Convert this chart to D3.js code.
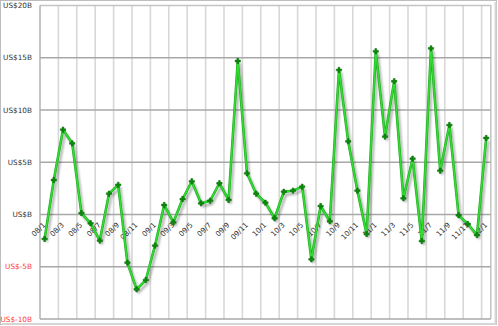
<!DOCTYPE html>
<html lang="en">
<head>
<meta charset="UTF-8">
<title>Monthly line chart</title>
<script src="https://cdn.jsdelivr.net/npm/d3@7"></script>
<style>
	body { margin: 0; background: #fff; }
	svg text { font-family: "DejaVu Sans", Verdana, sans-serif; }
</style>
</head>
<body>
<svg width="498" height="326"></svg>
<script>
	// months, 2008/01 .. 2012/01
	var months = ["08/1","08/2","08/3","08/4","08/5","08/6","08/7","08/8","08/9","08/10","08/11","08/12",
		"09/1","09/2","09/3","09/4","09/5","09/6","09/7","09/8","09/9","09/10","09/11","09/12",
		"10/1","10/2","10/3","10/4","10/5","10/6","10/7","10/8","10/9","10/10","10/11","10/12",
		"11/1","11/2","11/3","11/4","11/5","11/6","11/7","11/8","11/9","11/10","11/11","11/12",
		"12/1"];
	// values in US$ billions
	var values = [-2.34, 3.30, 8.12, 6.81, 0.14, -0.84, -2.50, 1.99, 2.84, -4.61, -7.16, -6.27,
		-2.98, 0.91, -0.75, 1.48, 3.18, 1.07, 1.32, 2.99, 1.39, 14.69, 3.94, 1.99,
		1.13, -0.36, 2.18, 2.28, 2.66, -4.29, 0.81, -0.65, 13.83, 7.00, 2.28, -1.87,
		15.62, 7.45, 12.75, 1.55, 5.34, -2.54, 15.90, 4.19, 8.56, -0.08, -0.91, -1.96,
		7.32];
	var yTicks = [-10, -5, 0, 5, 10, 15, 20];
	// every second month gets a label
	var tickMonths = ["08/1","08/3","08/5","08/7","08/9","08/11","09/1","09/3","09/5","09/7","09/9","09/11",
		"10/1","10/3","10/5","10/7","10/9","10/11","11/1","11/3","11/5","11/7","11/9","11/11","12/1"];

	var svg = d3.select("svg");
	var pLeft = 40, pRight = 490.8, pTop = 5.5, pBottom = 319;

	// outer frame
	svg.append("rect")
		.attr("x", 0.5).attr("y", 0.5)
		.attr("width", 496).attr("height", 324)
		.attr("fill", "#fff")
		.attr("stroke", "#bdbdbd")
		.attr("stroke-width", 1);
	svg.append("path")
		.attr("d", "M2,324 H495.5 V2")
		.attr("fill", "none")
		.attr("stroke", "#d6d6d6")
		.attr("stroke-width", 2);

	var x = d3.scaleBand().domain(months).range([pLeft, pRight]);
	var y = d3.scaleLinear().domain([-10, 20]).range([pBottom, pTop]);

	var defs = svg.append("defs");
	var f = defs.append("filter").attr("id", "shadow")
		.attr("x", "-5%").attr("y", "-5%").attr("width", "110%").attr("height", "110%");
	f.append("feDropShadow")
		.attr("dx", 2).attr("dy", 3)
		.attr("stdDeviation", 1.2)
		.attr("flood-color", "#000")
		.attr("flood-opacity", 0.3);

	// vertical grid, one line every two months
	var vgrid = months.filter((m, i) => i % 2 == 0 && i > 0);
	svg.append("g").selectAll("line")
		.data(vgrid)
		.enter().append("line")
		.attr("x1", d => x(d)).attr("x2", d => x(d))
		.attr("y1", pTop).attr("y2", pBottom)
		.attr("stroke", "#d8d8d8")
		.attr("stroke-width", 1.6);

	// plot border top/right
	svg.append("path")
		.attr("d", `M${pLeft},${pTop} H${pRight} V${pBottom}`)
		.attr("fill", "none")
		.attr("stroke", "#c4c4c4")
		.attr("stroke-width", 1.5);

	// horizontal grid
	svg.append("g").selectAll("line")
		.data(yTicks.filter(d => d < 20))
		.enter().append("line")
		.attr("x1", pLeft).attr("x2", pRight)
		.attr("y1", d => y(d)).attr("y2", d => y(d))
		.attr("stroke", "#a8a8a8")
		.attr("stroke-width", 1.3);

	// y axis line
	svg.append("line")
		.attr("x1", pLeft).attr("x2", pLeft)
		.attr("y1", pTop).attr("y2", pBottom)
		.attr("stroke", "#a8a8a8")
		.attr("stroke-width", 1.3);

	// y labels
	svg.append("g").selectAll("text")
		.data(yTicks)
		.enter().append("text")
		.attr("x", 32)
		.attr("y", d => y(d))
		.attr("dy", "0.35em")
		.attr("text-anchor", "end")
		.attr("font-size", 7.3)
		.attr("fill", d => d < 0 ? "#ff3b3b" : "#333")
		.text(d => "US$" + (d == 0 ? "" : d) + "B");

	// x labels, rotated
	svg.append("g").selectAll("text")
		.data(tickMonths)
		.enter().append("text")
		.attr("transform", d => `translate(${x(d) + x.bandwidth() / 2 + 1.5},${y(0) + 11}) rotate(-45)`)
		.attr("text-anchor", "end")
		.attr("font-size", 7.3)
		.attr("fill", "#333")
		.text(d => d);

	// data line
	var pts = months.map((m, i) => ({ m: m, v: values[i] }));
	var line = d3.line()
		.x(d => x(d.m) + x.bandwidth() / 2)
		.y(d => y(d.v));

	var g = svg.append("g").attr("filter", "url(#shadow)");
	g.append("path")
		.attr("d", line(pts))
		.attr("fill", "none")
		.attr("stroke", "#20a820")
		.attr("stroke-width", 2.6)
		.attr("stroke-linejoin", "round");
	g.append("path")
		.attr("d", line(pts))
		.attr("fill", "none")
		.attr("stroke", "#33dd33")
		.attr("stroke-width", 1.5)
		.attr("stroke-linejoin", "round");

	svg.append("g").selectAll("path")
		.data(pts)
		.enter().append("path")
		.attr("transform", d => `translate(${x(d.m) + x.bandwidth() / 2},${y(d.v)})`)
		.attr("d", d3.symbol().type(d3.symbolCross).size(16))
		.attr("fill", "#0b8a0b")
		.attr("stroke", "#066a06")
		.attr("stroke-width", 0.5);
</script>
</body>
</html>
